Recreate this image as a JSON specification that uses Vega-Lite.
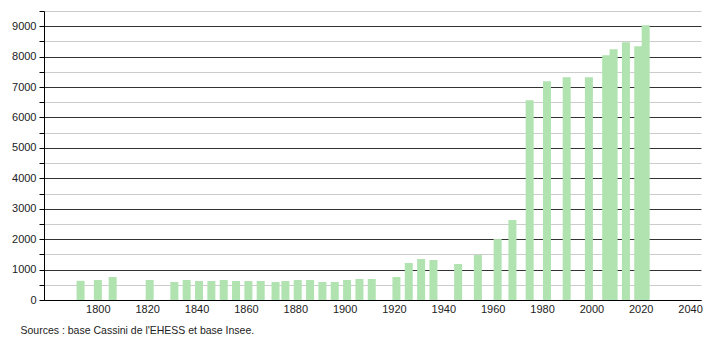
{
  "$schema": "https://vega.github.io/schema/vega-lite/v6.json",
  "width": 657,
  "height": 289,
  "autosize": "none",
  "padding": {"left": 44, "top": 11, "right": 9, "bottom": 40},
  "background": "white",
  "config": {"view": {"stroke": null}, "font": "Liberation Sans"},
  "data": {"values": [
    {"year": 1793, "pop": 630}, {"year": 1800, "pop": 657}, {"year": 1806, "pop": 755},
    {"year": 1821, "pop": 657}, {"year": 1831, "pop": 591}, {"year": 1836, "pop": 657},
    {"year": 1841, "pop": 624}, {"year": 1846, "pop": 624}, {"year": 1851, "pop": 657},
    {"year": 1856, "pop": 624}, {"year": 1861, "pop": 624}, {"year": 1866, "pop": 624},
    {"year": 1872, "pop": 591}, {"year": 1876, "pop": 624}, {"year": 1881, "pop": 657},
    {"year": 1886, "pop": 657}, {"year": 1891, "pop": 591}, {"year": 1896, "pop": 591},
    {"year": 1901, "pop": 657}, {"year": 1906, "pop": 690}, {"year": 1911, "pop": 690},
    {"year": 1921, "pop": 755}, {"year": 1926, "pop": 1215}, {"year": 1931, "pop": 1347},
    {"year": 1936, "pop": 1314}, {"year": 1946, "pop": 1183}, {"year": 1954, "pop": 1478},
    {"year": 1962, "pop": 2004}, {"year": 1968, "pop": 2628}, {"year": 1975, "pop": 6570},
    {"year": 1982, "pop": 7194}, {"year": 1990, "pop": 7326}, {"year": 1999, "pop": 7326},
    {"year": 2006, "pop": 8049}, {"year": 2009, "pop": 8246}, {"year": 2014, "pop": 8475},
    {"year": 2019, "pop": 8344}, {"year": 2022, "pop": 9034}
  ]},
  "mark": {"type": "bar", "size": 8, "color": "#b0e3b0"},
  "encoding": {
    "x": {
      "field": "year", "type": "quantitative",
      "scale": {"domain": [1780.2, 2042.4], "nice": false, "zero": false},
      "axis": {
        "values": [1800, 1820, 1840, 1860, 1880, 1900, 1920, 1940, 1960, 1980, 2000, 2020, 2040],
        "format": "d", "grid": false, "ticks": false, "labelPadding": 3,
        "labelFontSize": 11, "labelColor": "#222", "labelFont": "Liberation Sans",
        "domainColor": "#000", "domainWidth": 1,
        "title": "Sources : base Cassini de l'EHESS et base Insee.",
        "titleX": -24, "titleY": 33, "titleAlign": "left", "titleAnchor": "start",
        "titleBaseline": "alphabetic", "titleFontWeight": "normal", "titleFontSize": 10.5,
        "titleColor": "#222", "titleFont": "Liberation Sans", "labelFlush": false
      }
    },
    "y": {
      "field": "pop", "type": "quantitative",
      "scale": {"domain": [0, 9500], "nice": false},
      "axis": {
        "values": [0, 500, 1000, 1500, 2000, 2500, 3000, 3500, 4000, 4500, 5000, 5500, 6000, 6500, 7000, 7500, 8000, 8500, 9000, 9500],
        "format": "d",
        "labelExpr": "datum.value % 1000 === 0 ? datum.label : ''",
        "grid": true,
        "gridColor": {"condition": {"test": "datum.value % 1000 === 0", "value": "#333333"}, "value": "#cccccc"},
        "gridWidth": 1,
        "tickSize": 5, "tickColor": "#000",
        "labelPadding": 3, "labelFontSize": 11, "labelColor": "#222", "labelFont": "Liberation Sans",
        "domainColor": "#000", "title": null
      }
    }
  }
}
